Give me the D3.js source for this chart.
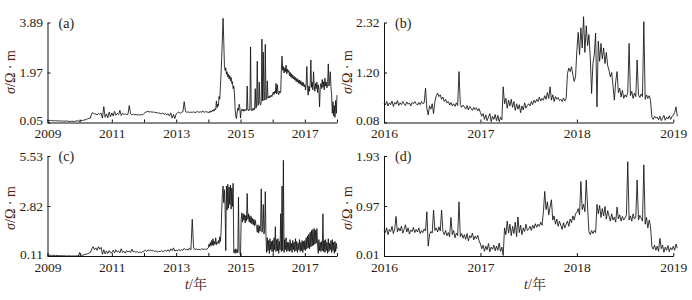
<!DOCTYPE html>
<html>
<head>
<meta charset="utf-8">
<script src="https://cdn.jsdelivr.net/npm/d3@7"></script>
<style>
    body { margin: 0; background: #fff; }
    svg { display: block; }
</style>
</head>
<body>
<svg id="chart"></svg>
<script>
// resistivity series
// (a), (c): 2009.0-2013.96 every 1/24 year, then 2014.0-2018.0 every 1/48 year
// (b), (d): from 2016.0, one value every 1/72 year
let seriesAEarly = [
    0.13,0.12,0.12,0.13,0.12,0.11,0.12,0.11,0.11,0.12,0.10,0.11,0.10,0.10,0.11,0.10,0.09,0.10,0.09,0.10,0.09,0.10,0.12,0.10,
    0.11,0.12,0.13,0.14,0.15,0.17,0.19,0.21,0.22,0.40,0.43,0.37,
    0.38,0.34,0.40,0.36,0.41,0.22,0.66,0.25,0.38,0.23,0.45,0.27,
    0.42,0.30,0.48,0.33,0.40,0.35,0.52,0.32,0.41,0.36,0.38,0.35,
    0.36,0.70,0.38,0.34,0.37,0.35,0.36,0.34,0.35,0.33,0.36,0.34,
    0.40,0.44,0.46,0.48,0.45,0.47,0.44,0.46,0.43,0.44,0.41,0.42,
    0.40,0.38,0.42,0.36,0.40,0.34,0.39,0.30,0.42,0.22,0.36,0.20,
    0.38,0.42,0.45,0.40,0.44,0.46,0.85,0.47,0.44,0.46,0.43,0.45,
    0.44,0.46,0.43,0.45,0.47,0.44,0.46,0.45,0.48,0.44,0.47,0.45
]
let seriesALate = [
    0.45,0.42,0.48,0.44,0.50,0.46,0.52,0.48,0.55,0.50,0.58,0.54,0.88,0.62,0.75,0.68,1.05,0.95,1.40,1.90,2.60,3.30,4.05,3.20,
    2.25,2.05,2.15,1.90,2.00,1.80,1.90,1.72,1.85,1.65,1.78,1.55,1.62,1.35,1.45,1.15,0.55,0.30,0.20,0.45,0.60,0.52,0.75,0.62,
    0.22,0.48,0.55,0.50,0.57,0.48,0.54,0.50,0.56,0.52,1.45,0.55,0.50,0.56,0.52,2.95,0.55,0.50,0.58,0.52,0.60,0.55,1.35,0.60,
    0.68,2.40,0.70,0.75,1.60,0.78,0.72,0.85,3.25,0.88,2.75,0.90,0.95,3.05,0.92,1.00,1.65,0.98,1.05,1.00,1.08,1.02,1.10,1.05,
    1.15,1.22,1.12,1.25,1.18,1.55,1.15,1.50,1.20,1.12,1.25,1.18,1.22,2.10,2.60,2.05,2.20,1.95,2.15,2.00,2.25,1.92,2.10,1.98,
    2.05,1.85,1.98,1.80,1.92,1.75,1.88,1.72,1.82,1.68,1.78,1.62,1.75,1.60,1.70,1.55,1.68,1.52,1.65,1.48,1.60,1.45,1.58,1.42,
    1.50,1.30,1.55,2.20,1.35,1.10,1.45,1.25,1.55,2.45,1.40,1.60,1.30,2.00,1.45,1.25,1.55,1.35,1.60,1.20,1.50,1.30,0.65,1.40,
    1.55,1.35,1.70,1.40,1.62,1.30,1.75,1.45,1.60,1.38,1.50,2.30,1.45,1.65,2.00,1.40,1.10,0.40,0.85,0.30,0.70,0.25,0.90,0.40,1.10
]
let seriesB = [
    0.50,0.47,0.55,0.45,0.52,0.48,0.56,0.44,0.53,0.49,0.57,0.46,
    0.52,0.48,0.55,0.50,0.46,0.54,0.49,0.52,0.45,0.53,0.50,0.55,
    0.50,0.47,0.53,0.48,0.55,0.50,0.52,0.85,0.40,0.25,0.45,0.38,
    0.50,0.28,0.55,0.68,0.74,0.66,0.70,0.60,0.65,0.55,0.60,0.52,
    0.55,0.47,0.53,0.45,0.50,0.44,0.52,0.46,1.22,0.48,0.42,0.47,
    0.43,0.38,0.46,0.36,0.44,0.40,0.35,0.42,0.37,0.41,0.34,0.39,
    0.30,0.22,0.28,0.15,0.25,0.12,0.20,0.28,0.10,0.22,0.15,0.26,
    0.12,0.24,0.10,0.20,0.14,0.88,0.50,0.62,0.40,0.58,0.45,0.60,
    0.42,0.55,0.35,0.50,0.38,0.48,0.30,0.45,0.36,0.52,0.40,0.46,
    0.50,0.45,0.55,0.48,0.58,0.52,0.60,0.55,0.65,0.56,0.62,0.58,
    0.68,0.60,0.75,0.62,0.88,0.58,0.70,0.55,0.66,0.60,0.64,0.57,
    0.60,0.55,0.63,0.56,0.62,1.18,1.30,1.22,1.33,1.15,1.00,1.10,
    1.70,2.10,1.60,2.20,1.75,2.45,1.65,2.25,1.80,2.05,1.55,0.73,
    1.40,1.60,2.08,0.43,1.90,1.45,1.85,1.50,1.75,1.40,1.65,1.35,
    1.25,1.10,1.20,0.90,0.58,1.00,1.22,0.75,0.85,0.65,0.80,0.62,
    0.70,0.65,0.75,1.85,0.68,0.78,0.62,0.74,0.66,1.48,0.70,0.64,
    0.72,0.66,2.34,0.60,0.70,0.62,0.68,0.58,0.20,0.15,0.22,0.18,
    0.20,0.14,0.22,0.12,0.18,0.24,0.13,0.20,0.16,0.23,0.15,0.21,
    0.25,0.30,0.43,0.22
]
let seriesCEarly = [
    0.16,0.15,0.15,0.14,0.15,0.14,0.13,0.14,0.13,0.13,0.12,0.13,0.12,0.12,0.11,0.12,0.11,0.12,0.11,0.11,0.12,0.11,0.12,0.11,
    0.30,0.14,0.15,0.17,0.19,0.21,0.24,0.27,0.30,0.50,0.62,0.45,
    0.55,0.42,0.62,0.48,0.58,0.20,0.45,0.22,0.38,0.25,0.40,0.28,
    0.30,0.42,0.28,0.45,0.32,0.38,0.28,0.50,0.30,0.36,0.27,0.40,
    0.33,0.38,0.30,0.48,0.34,0.36,0.31,0.35,0.29,0.33,0.30,0.34,
    0.38,0.42,0.36,0.44,0.40,0.43,0.38,0.41,0.35,0.39,0.33,0.36,
    0.35,0.40,0.34,0.38,0.42,0.36,0.45,0.35,0.50,0.40,0.55,0.38,
    0.42,0.38,0.47,0.40,0.45,0.42,0.52,0.44,0.48,0.43,0.55,0.45,
    2.10,0.55,0.45,0.50,0.46,0.48,0.44,0.50,0.47,0.49,0.46,0.50
]
let seriesCLate = [
    0.55,0.75,0.62,0.85,0.65,0.95,0.70,1.05,0.68,0.90,0.75,1.10,0.72,0.85,0.80,0.95,0.78,1.15,0.90,1.40,2.60,3.50,3.90,3.00,
    3.70,2.80,0.40,3.90,2.60,4.00,2.70,3.85,2.90,3.95,2.65,3.80,2.80,4.05,0.30,0.45,0.25,0.50,0.30,0.45,0.28,3.30,0.40,0.35,
    0.12,2.10,2.45,1.95,2.40,2.05,2.35,1.90,2.30,2.00,3.50,2.10,2.40,1.95,2.30,1.90,2.25,1.85,2.15,1.80,2.10,1.75,2.05,1.80,
    1.70,1.40,1.80,1.35,1.75,1.45,1.70,3.75,1.40,1.65,2.90,1.30,1.55,3.60,1.20,0.30,1.10,0.40,0.95,0.25,1.05,0.45,0.90,0.35,
    0.95,0.30,1.10,0.45,1.70,0.35,1.00,0.40,1.05,0.25,0.90,0.45,2.40,0.35,3.90,0.40,5.30,0.30,1.00,0.45,1.10,0.35,0.85,0.40,
    0.85,0.35,1.00,0.40,0.80,0.30,0.95,0.45,0.85,0.35,1.05,0.40,0.90,0.30,0.80,0.45,1.00,0.35,0.85,0.40,0.95,0.30,0.90,0.45,
    0.95,0.40,1.10,0.50,1.20,0.55,1.30,0.50,1.40,0.60,1.50,0.65,1.55,0.70,1.60,0.75,1.50,0.80,1.60,0.70,0.25,1.00,0.40,0.85,
    0.35,0.90,0.40,2.40,0.35,0.95,0.30,1.00,0.40,0.85,0.25,1.05,0.35,0.80,0.45,0.95,0.30,1.00,0.40,0.85,0.25,0.90,0.35,0.80,0.50
]
let seriesD = [
    0.50,0.46,0.55,0.42,0.52,0.48,0.58,0.44,0.53,0.77,0.47,0.55,
    0.49,0.58,0.45,0.52,0.61,0.47,0.55,0.43,0.51,0.48,0.56,0.46,
    0.52,0.47,0.55,0.44,0.50,0.46,0.53,0.49,0.86,0.20,0.42,0.48,
    0.45,0.89,0.50,0.55,0.47,0.57,0.49,0.89,0.48,0.42,0.50,0.40,
    0.46,0.38,0.75,0.42,0.50,0.36,0.45,0.40,1.05,0.38,0.44,0.35,
    0.42,0.33,0.44,0.30,0.40,0.36,0.45,0.32,0.39,0.34,0.41,0.30,
    0.24,0.15,0.22,0.10,0.20,0.13,0.25,0.09,0.18,0.14,0.22,0.11,
    0.20,0.12,0.26,0.10,0.18,0.02,0.55,0.42,0.68,0.45,0.62,0.40,
    0.58,0.44,0.66,0.38,0.76,0.46,0.60,0.42,0.55,0.48,0.62,0.50,
    0.52,0.58,0.50,0.60,0.54,0.63,0.56,0.62,0.58,0.66,0.60,0.85,
    1.25,0.90,1.05,0.80,0.95,1.09,0.70,0.78,0.62,0.72,0.58,0.68,
    0.60,0.52,0.65,0.55,0.62,0.68,0.58,0.72,0.65,0.78,0.70,0.82,
    0.85,0.92,0.80,1.44,0.90,1.00,0.86,1.47,0.95,0.48,0.42,0.50,
    0.44,0.50,0.46,1.00,0.82,0.98,0.75,0.92,0.78,0.96,0.72,0.88,
    0.78,0.68,0.82,0.70,0.76,0.66,0.95,0.72,0.80,0.68,0.77,0.70,
    0.74,0.80,1.82,0.70,0.78,0.68,0.82,0.72,0.76,1.47,0.70,0.79,
    0.74,0.68,1.76,0.62,0.75,0.55,0.70,0.58,0.19,0.14,0.22,0.12,
    0.20,0.10,0.35,0.15,0.22,0.08,0.18,0.12,0.21,0.09,0.17,0.13,
    0.20,0.12,0.24,0.16
]

let ticksA = [0.05, 1.97, 3.89]
let ticksB = [0.08, 1.20, 2.32]
let ticksC = [0.11, 2.82, 5.53]
let ticksD = [0.01, 0.97, 1.93]

let yearsLong = [2009, 2010, 2011, 2012, 2013, 2014, 2015, 2016, 2017, 2018]
let labelsLong = [2009, 2011, 2013, 2015, 2017]
let yearsShort = [2016, 2017, 2018, 2019]

const textColor = '#2a1c12'
const titleColor = '#4a2312'
const serif = '"Liberation Serif", "Times New Roman", "Noto Serif CJK SC", "Noto Sans CJK SC", serif'

let width = 692,
    height = 300

let $svg = d3.select('#chart')
    .attr('width', width)
    .attr('height', height)

// turn regularly sampled pieces into {t, v} points
function sampled(pieces) {
    let points = []
    pieces.forEach(([values, start, step]) => {
        values.forEach((v, i) => points.push({t: start + i * step, v: v}))
    })
    return points
}

let panels = [
    {tag: '(a)', points: sampled([[seriesAEarly, 2009, 1 / 24], [seriesALate, 2014, 1 / 48]]),
        years: yearsLong, labels: labelsLong, ticks: ticksA,
        left: 47.5, right: 337, top: 22.5, bottom: 122.5, titleX: 10, titleY: 72, xTitle: false},
    {tag: '(b)', points: sampled([[seriesB, 2016, 1 / 72]]),
        years: yearsShort, labels: yearsShort, ticks: ticksB,
        left: 384, right: 673.3, top: 22.5, bottom: 122.5, titleX: 347, titleY: 72, xTitle: false},
    {tag: '(c)', points: sampled([[seriesCEarly, 2009, 1 / 24], [seriesCLate, 2014, 1 / 48]]),
        years: yearsLong, labels: labelsLong, ticks: ticksC,
        left: 47.5, right: 337, top: 156, bottom: 256, titleX: 10, titleY: 208, xTitle: true, xTitleX: 196},
    {tag: '(d)', points: sampled([[seriesD, 2016, 1 / 72]]),
        years: yearsShort, labels: yearsShort, ticks: ticksD,
        left: 384, right: 673.3, top: 156, bottom: 256, titleX: 347, titleY: 208, xTitle: true, xTitleX: 535}
]

function styleAxis(g) {
    g.attr('font-family', serif)
        .attr('font-size', 13.5)
    g.select('.domain').attr('stroke', '#111').attr('stroke-width', 1)
    g.selectAll('.tick line').attr('stroke', '#111').attr('stroke-width', 1)
    g.selectAll('.tick text').attr('fill', textColor)
}

panels.forEach((p) => {
    let scaleX = d3.scaleLinear()
        .domain([p.years[0], p.years[p.years.length - 1]])
        .range([p.left, p.right])
    let scaleY = d3.scaleLinear()
        .domain([p.ticks[0], p.ticks[p.ticks.length - 1]])
        .range([p.bottom, p.top])

    let lineFunction = d3.line()
        .x((d) => scaleX(d.t))
        .y((d) => scaleY(d.v))

    $svg.append('path')
        .attr('d', lineFunction(p.points))
        .attr('fill', 'none')
        .attr('stroke', '#111')
        .attr('stroke-width', 0.85)
        .attr('stroke-linejoin', 'round')

    let yAxis = d3.axisLeft(scaleY)
        .tickValues(p.ticks)
        .tickSize(-3)
        .tickSizeOuter(0)
        .tickPadding(4.5)
        .tickFormat(d3.format('.2f'))
    let $yAxis = $svg.append('g')
        .attr('transform', 'translate(' + p.left + ',0)')
        .call(yAxis)
        .call(styleAxis)
    // lift the lowest label a touch so it clears the year below
    $yAxis.selectAll('.tick text')
        .filter((d) => d === p.ticks[0])
        .attr('y', -2)

    let xAxis = d3.axisBottom(scaleX)
        .tickValues(p.years)
        .tickSize(-3)
        .tickSizeOuter(0)
        .tickPadding(6)
        .tickFormat((d) => p.labels.includes(d) ? d : '')
    $svg.append('g')
        .attr('transform', 'translate(0,' + p.bottom + ')')
        .call(xAxis)
        .call(styleAxis)

    // panel letter
    $svg.append('text')
        .attr('x', p.left + 11)
        .attr('y', p.top + 5)
        .attr('font-family', serif)
        .attr('font-size', 14)
        .attr('fill', textColor)
        .text(p.tag)

    // y title: sigma / ohm m
    let title = $svg.append('text')
        .attr('transform', 'translate(' + p.titleX + ',' + p.titleY + ') rotate(-90)')
        .attr('text-anchor', 'middle')
        .attr('dy', '0.35em')
        .attr('font-family', serif)
        .attr('font-size', 14)
        .attr('fill', titleColor)
    title.append('tspan').attr('font-style', 'italic').text('σ')
    title.append('tspan').text('/Ω · m')

    if (p.xTitle) {
        let xt = $svg.append('text')
            .attr('x', p.xTitleX)
            .attr('y', 289)
            .attr('text-anchor', 'middle')
            .attr('font-family', serif)
            .attr('font-size', 14)
            .attr('fill', titleColor)
        xt.append('tspan').attr('font-style', 'italic').text('t')
        xt.append('tspan').text('/年')
    }
})
</script>
</body>
</html>
